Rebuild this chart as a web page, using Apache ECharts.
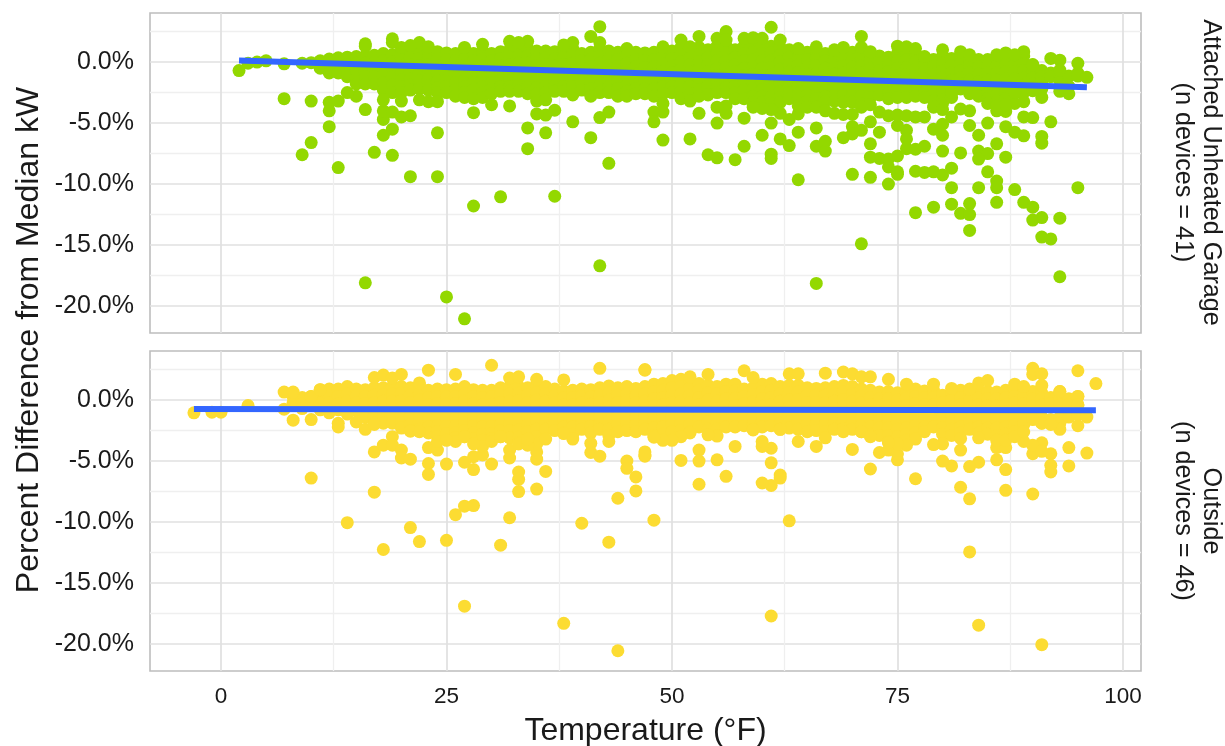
<!DOCTYPE html>
<html><head><meta charset="utf-8">
<style>html,body{margin:0;padding:0;background:#fff}#c{width:1225px;height:746px}</style>
<script src="https://cdn.jsdelivr.net/npm/echarts@6/dist/echarts.min.js"></script>
</head><body><div id="c"></div>
<script>
const xMajor = [0, 25, 50, 75, 100];
const xMinor = [12.5, 37.5, 62.5, 87.5];
const yMajor = [0, -5, -10, -15, -20];
const yMinor = [2.5, -2.5, -7.5, -12.5, -17.5];
const stripGarage = ['Attached Unheated Garage', '(n devices = 41)'];
const stripOutside = ['Outside', '(n devices = 46)'];
const garageTrend = [[2, 0.12], [96, -2.07]];
const outsideTrend = [[-3, -0.74], [97, -0.83]];

// dense band: [temperature, value, value, ...] read per degree
const garageBand = [
[11,.1,-.5],[12,.25,-.35,-.9],[13,.35,-.3,-.9],[14,.4,-.2,-.7,-1.2],[15,.45,-.1,-.7,-1.3,-1.8],
[16,.5,-.1,-.6,-1.2,-1.8],[17,.55,0,-.6,-1.2,-1.8],[18,.7,.1,-.5,-1.1,-1.7,-2.3],[19,.6,0,-.6,-1.2,-1.9,-2.5],
[20,.9,.3,-.3,-.9,-1.5,-2,-2.5],[21,.9,.35,-.2,-.8,-1.4,-1.9,-2.3],[22,.95,.3,-.3,-.9,-1.5,-2.2],[23,.9,.35,-.2,-.8,-1.4,-1.9,-2.3],
[24,.85,.25,-.35,-.95,-1.55,-2.1,-2.5],[25,.75,.2,-.4,-1,-1.5,-2,-2.5],[26,.7,.1,-.5,-1.1,-1.7,-2.3,-2.8],[27,.85,.25,-.3,-.9,-1.5,-2,-2.5,-2.9],
[28,.7,.1,-.5,-1.1,-1.7,-2.3,-3],[29,.9,.3,-.3,-.9,-1.5,-2,-2.5,-2.9],[30,.7,.1,-.5,-1.1,-1.7,-2.2,-2.6],[31,.85,.3,-.3,-.9,-1.5,-2,-2.4],
[32,1,.4,-.2,-.8,-1.4,-2,-2.4],[33,1.1,.5,-.1,-.7,-1.3,-1.9,-2.4],[34,1.1,.5,-.1,-.7,-1.3,-2,-2.6],[35,.9,.3,-.3,-.9,-1.5,-2.1,-2.6],
[36,.9,.35,-.25,-.85,-1.45,-2,-2.5],[37,.85,.25,-.35,-.95,-1.55,-2,-2.4],[38,1,.4,-.2,-.8,-1.4,-2,-2.4],[39,1.1,.55,-.1,-.7,-1.3,-2,-2.7],
[40,.7,.1,-.5,-1.1,-1.7,-2.3],[41,.8,.2,-.4,-1,-1.6,-2.2,-2.8],[42,1.1,.5,-.1,-.7,-1.3,-1.9,-2.5],[43,.9,.3,-.3,-.9,-1.5,-2,-2.5],
[44,.8,.2,-.4,-1,-1.6,-2.2,-2.8],[45,1.1,.5,-.1,-.7,-1.3,-1.9,-2.4,-2.8],[46,.8,.2,-.4,-1,-1.6,-2.2,-2.6],[47,.75,.15,-.45,-1.05,-1.65,-2.2,-2.6],
[48,.8,.2,-.4,-1,-1.6,-2.2,-2.8],[49,1,.45,-.15,-.75,-1.35,-2,-2.6],[50,.9,.3,-.3,-.9,-1.5,-2,-2.5],[51,1.2,.6,0,-.6,-1.2,-1.8,-2.4,-3],
[52,1,.4,-.2,-.8,-1.4,-2,-2.6,-3.2],[53,1.2,.6,0,-.6,-1.2,-1.8,-2.3,-2.8],[54,1,.4,-.2,-.8,-1.4,-2,-2.7],[55,1.3,.7,.1,-.5,-1.1,-1.7,-2.1,-2.5],
[56,1.3,.75,.15,-.45,-1.05,-1.65,-2.1,-2.5],[57,1,.4,-.2,-.8,-1.4,-2,-2.5,-3],[58,1.3,.7,.1,-.5,-1.1,-1.7,-2.3,-3],[59,1.4,.8,.2,-.4,-1,-1.6,-2.2,-2.8,-3.3],
[60,1.3,.7,.1,-.5,-1.1,-1.7,-2.3,-2.8,-3.3],[61,1.3,.75,.15,-.45,-1.05,-1.65,-2.25,-2.85,-3.4],[62,1.2,.6,0,-.6,-1.2,-1.8,-2.4,-2.9,-3.3],[63,1,.4,-.2,-.8,-1.4,-2,-2.5,-3],
[64,.9,.35,-.25,-.85,-1.45,-2.05,-2.6,-3],[65,.8,.2,-.4,-1,-1.6,-2.2,-2.7,-3.2],[66,.9,.3,-.3,-.9,-1.5,-2.1,-2.6,-3],[67,.7,.1,-.5,-1.1,-1.7,-2.3,-2.8,-3.2],
[68,.8,.2,-.4,-1,-1.6,-2.2,-2.7,-3.2],[69,.9,.3,-.3,-.9,-1.5,-2.1,-2.7,-3.3],[70,.8,.2,-.4,-1,-1.6,-2.2,-2.8,-3.3],[71,.9,.3,-.3,-.9,-1.5,-2.1,-2.8,-3.4],
[72,.7,.1,-.5,-1.1,-1.7,-2.3,-2.9,-3.5],[73,.5,-.1,-.7,-1.3,-1.9,-2.3,-2.7],[74,.4,-.2,-.8,-1.4,-2,-2.5,-3],[75,.7,.1,-.5,-1.1,-1.7,-2.3,-2.9],
[76,.7,.15,-.45,-1.05,-1.65,-2.25,-2.9],[77,.6,0,-.6,-1.2,-1.8,-2.3,-2.8],[78,.4,-.2,-.8,-1.4,-2,-2.5,-2.9],[79,.2,-.4,-1,-1.6,-2.2,-2.7,-3.2],
[80,.5,-.1,-.7,-1.3,-1.9,-2.5,-3.1,-3.4],[81,.3,-.3,-.9,-1.5,-2.1,-2.5,-2.9],[82,.5,-.1,-.7,-1.3,-1.8,-2.2],[83,.3,-.3,-.9,-1.5,-2.1,-2.6],
[84,.2,-.4,-1,-1.6,-2.2,-2.8],[85,.2,-.3,-.9,-1.5,-2.1,-2.6,-3],[86,.3,-.3,-.9,-1.5,-2.1,-2.7,-3.2],[87,.4,-.2,-.8,-1.4,-2,-2.5,-3],
[88,.4,-.2,-.8,-1.4,-2,-2.5],[89,.5,-.1,-.7,-1.3,-1.9,-2.5],[90,-.2,-.8,-1.3,-1.8,-2.3],[91,-.7,-1.2,-1.7,-2.2],[92,-.9,-1.2],[93,-1,-1.5],[94,-1.15,-2],[95,-.9,-1.15],
];
const outsideBand = [
[8,.3,-.2],[9,.2,-.3],[10,.3,-.2],[11,.85,.3,-.25,-.8],[12,.9,.35,-.2,-.7],[13,.9,.3,-.3,-.8],[14,1.1,.5,-.1,-.6],[15,.9,.35,-.25,-.85],
[16,.85,.3,-.3,-.9,-1.4],[17,1,.4,-.2,-.8,-1.4,-1.9],[18,1,.45,-.1,-.7,-1.3,-1.9],[19,1.1,.5,-.1,-.7,-1.3,-1.9],[20,1.1,.55,-.05,-.65,-1.25,-1.85,-2.3],
[21,1,.4,-.2,-.8,-1.4,-2,-2.5],[22,1.2,.6,0,-.6,-1.2,-1.8,-2.4],[23,.8,.2,-.4,-1,-1.6,-2.2,-2.7],[24,.9,.3,-.3,-.9,-1.5,-2.1,-2.6,-3],
[25,.85,.25,-.35,-.95,-1.55,-2.15,-2.75],[26,.9,.3,-.3,-.9,-1.5,-2.1,-2.7,-3.1],[27,1.1,.5,-.1,-.7,-1.3,-1.9,-2.5,-3],[28,.85,.3,-.3,-.9,-1.5,-2.1,-2.7,-3.2],
[29,.8,.2,-.4,-1,-1.6,-2.2,-2.8,-3.3],[30,.8,.25,-.35,-.95,-1.55,-2.15,-2.75,-3.2],[31,1,.4,-.2,-.8,-1.4,-2,-2.5,-3],[32,1.1,.5,-.1,-.7,-1.3,-1.9,-2.5,-3.1],
[33,1.1,.55,-.05,-.65,-1.25,-1.85,-2.45,-3.05,-3.5],[34,1,.4,-.2,-.8,-1.4,-2,-2.6,-3.2],[35,1.2,.6,0,-.6,-1.2,-1.8,-2.4,-3],[36,1.1,.5,-.1,-.7,-1.3,-1.9,-2.4],
[37,.9,.35,-.25,-.85,-1.45,-2,-2.5],[38,.75,.2,-.4,-1,-1.6,-2.2,-2.7],[39,.8,.2,-.4,-1,-1.6,-2.2,-2.8],[40,.9,.35,-.25,-.85,-1.45,-2,-2.4],
[41,.85,.25,-.35,-.95,-1.55,-2.15,-2.7],[42,1,.4,-.2,-.8,-1.4,-2,-2.4],[43,1.15,.6,0,-.6,-1.2,-1.8,-2.4,-2.9],[44,1,.4,-.2,-.8,-1.4,-2,-2.6],
[45,1.1,.55,-.05,-.65,-1.25,-1.85,-2.5],[46,.95,.35,-.25,-.85,-1.45,-2.05,-2.6],[47,1.1,.5,-.1,-.7,-1.3,-1.9,-2.4],[48,1.3,.7,.1,-.5,-1.1,-1.7,-2.3,-2.9],
[49,1.35,.8,.2,-.4,-1,-1.6,-2.2,-2.8],[50,1.6,1,.4,-.2,-.8,-1.4,-2,-2.6],[51,1.7,1.1,.5,-.1,-.7,-1.3,-1.9,-2.5],[52,1.6,1,.4,-.2,-.8,-1.4,-2,-2.6],
[53,1.35,.8,.2,-.4,-1,-1.6,-2.2],[54,1.2,.6,0,-.6,-1.2,-1.8,-2.4],[55,1.1,.5,-.1,-.7,-1.3,-1.9,-2.4],[56,1.3,.7,.1,-.5,-1.1,-1.7,-2.2],
[57,1.3,.75,.15,-.45,-1.05,-1.65,-2.2],[58,.9,.3,-.3,-.9,-1.5,-2.1],[59,1,.45,-.15,-.75,-1.35,-1.95,-2.4],[60,1.3,.7,.1,-.5,-1.1,-1.7,-2.2],
[61,1.35,.8,.2,-.4,-1,-1.6,-2.1],[62,1.1,.5,-.1,-.7,-1.3,-1.9,-2.4],[63,1.2,.6,0,-.6,-1.2,-1.8,-2.3],[64,1.2,.65,.05,-.55,-1.15,-1.75,-2.4],
[65,1,.4,-.2,-.8,-1.4,-2,-2.6],[66,.95,.4,-.2,-.8,-1.4,-2,-2.5],[67,1,.4,-.2,-.8,-1.4,-2,-2.6],[68,1.1,.5,-.1,-.7,-1.3,-1.9,-2.4],
[69,1.2,.65,.05,-.55,-1.15,-1.75,-2.35],[70,1.1,.5,-.1,-.7,-1.3,-1.9,-2.4],[71,.9,.35,-.25,-.85,-1.45,-2.05,-2.6],[72,.8,.2,-.4,-1,-1.6,-2.2,-2.8],
[73,.65,.1,-.5,-1.1,-1.7,-2.3,-2.9],[74,.7,.1,-.5,-1.1,-1.7,-2.3,-2.9,-3.4],[75,.6,0,-.6,-1.2,-1.8,-2.4,-3],[76,.7,.15,-.45,-1.05,-1.65,-2.25,-2.8,-3.3],
[77,.9,.3,-.3,-.9,-1.5,-2.1,-2.7,-3.2],[78,.75,.2,-.4,-1,-1.6,-2.2,-2.6],[79,.8,.2,-.4,-1,-1.6,-2.2],[80,.4,-.2,-.8,-1.4,-1.9,-2.3,-2.8],
[81,.6,0,-.6,-1.2,-1.8,-2.4,-2.9],[82,.8,.2,-.4,-1,-1.6,-2.2,-2.7],[83,.6,0,-.6,-1.2,-1.8,-2.4],[84,.8,.2,-.4,-1,-1.6,-2.2,-2.7],
[85,.7,.1,-.5,-1.1,-1.7,-2.3,-2.8],[86,.65,.1,-.5,-1.1,-1.7,-2.3,-2.9],[87,.8,.2,-.4,-1,-1.6,-2.2,-2.8],[88,.9,.35,-.25,-.85,-1.45,-2.05,-2.6],
[89,.9,.3,-.3,-.9,-1.5,-2],[90,.7,.1,-.5,-1.1],[91,.6,.1,-.4,-1.4,-1.9],[92,.2,-.3,-1.6],[93,.7,.1,-.4,-1.4,-1.9],[94,.1,-.4,-1.4],[95,.3,-.4,-1.2],
];
// isolated points: [temperature, value]
const garagePoints = [
[2,-.7],[3,-.1],[4,0],[5,.1],[7,-.15],[7,-3],[9,-.1],[10,-.05],[10,-3.2],[11,-.3],[12,-3.3],[12,-4],[12,-5.3],[13,-3.2],[10,-6.6],[9,-7.6],[13,-8.65],
[16,-3.9],[16,1.5],[16,1.3],[19,1.9],[19,1.6],[17,-7.4],[19,-7.65],[18,-6],[19,-5.5],[18,-4.7],[18,-4],[19,-4.1],[20,-4.5],[21,-4.4],[24,-5.8],[21,-9.4],[24,-9.4],
[22,-3.1],[23,-3.25],[24,-3.25],[20,-3.2],[15,-2.8],[14,-2.5],[18,-3.1],[28,-4.15],[30,-3.5],[32,-3.6],[34,-5.4],[36,-5.8],[34,-7.1],[35,-4.25],[36,-4.35],[37,-3.95],
[39,-4.9],[41,-6.2],[42,-4.55],[43,-4.1],[43,-8.3],[42,2.9],[41,2.1],[42,1.6],[39,1.6],[34,1.7],[32,1.7],[29,1.45],[27,1.2],[22,1.6],[23,1.25],[20,1.2],[21,1.35],[33,1.6],[38,1.4],
[28,-11.8],[31,-11.05],[37,-11],[16,-18.1],[25,-19.25],[27,-21.05],[42,-16.7],[35,-3.2],[36,-3.1],
[61,2.85],[56,2.5],[53,2.1],[55,1.95],[56,1.8],[51,1.8],[58,1.95],[59,2],[60,1.95],[62,1.8],[49,1.25],[52,1.25],[64,1.1],[66,1.25],[68,1],[69,1.2],[71,2.1],[71,1.2],[72,.85],[75,1.3],[76,1.25],[77,1.1],[78,.45],[80,1],[82,.85],[83,.6],[86,.6],[87,.75],[89,.85],[88,.6],[90,-.25],[92,.3],[93,.15],[95,-.1],[93,-.65],[96,-1.25],
[48,-4.1],[48,-4.9],[49,-3.4],[49,-4.1],[49,-6.4],[52,-6.3],[53,-4.2],[55,-5],[56,-4.2],[56,-3.6],[55,-3.7],[58,-4.6],[54,-7.6],[55,-7.85],[57,-8],[58,-6.9],[60,-6],[61,-5],[61,-7.55],[61,-7.9],[62,-6.3],[63,-6.85],[63,-4.7],[64,-4.25],[64,-5.75],[62,-4.2],[61,-3.9],[60,-3.8],[59,-3.7],
[66,-5.4],[66,-6.9],[67,-6.5],[67,-7.3],[69,-6.2],[70,-5.3],[70,-5.9],[71,-5.6],[72,-4.9],[73,-5.75],[72,-6.7],[72,-7.8],[73,-7.9],[74,-7.95],[74,-8.6],[75,-7.7],[75,-9],[76,-7.1],[77,-7.15],[78,-6.9],[76,-5.6],[76,-6.3],[75,-5.2],[73,-4.1],[74,-4.4],[75,-4.35],[76,-4.4],[77,-4.5],[78,-4.5],[79,-5.5],[80,-6],[80,-5.1],[81,-4.5],[82,-3.85],[83,-4],[83,-5.2],[84,-6],[85,-5],[80,-7.3],[82,-7.45],[84,-7.3],[85,-7.5],[84,-7.95],[86,-6.7],[87,-7.8],[87,-5.3],[88,-5.75],[89,-6.05],[91,-6.1],[91,-6.65],[92,-4.9],[90,-4.55],[89,-4.5],[89,-3.25],[88,-3.4],[87,-4.05],[86,-4],[91,-2.9],[94,-2.6],[93,-2.4],[90,-2.35],[88,-2.5],[81,-2.5],
[64,-3.6],[65,-3.7],[66,-3.7],[67,-4],[68,-4.2],[69,-4.3],[70,-4.3],[71,-3.7],[79,-3.7],[80,-3.9],[85,-3.4],[86,-3.6],[87,-3.5],
[64,-9.65],[70,-9.2],[72,-9.45],[74,-10],[75,-9.2],[77,-8.95],[78,-9.05],[79,-9],[80,-9.25],[81,-8.7],[81,-10.3],[84,-10.3],[85,-9],[86,-9.75],[86,-10.3],[88,-10.45],[89,-11.5],[90,-11.9],[86,-11.5],[83,-11.6],[81,-11.65],[79,-11.9],[77,-12.35],[82,-12.4],[83,-12.5],[83,-13.8],[90,-12.95],[91,-12.75],[93,-12.8],[91,-14.35],[92,-14.5],[95,-10.3],[71,-14.9],[66,-18.15],[93,-17.6],
];
const outsidePoints = [
[-3,-1.05],[-1,-1],[0,-1],[3,-.45],[7,.65],[8,.65],[7,-.75],[8,-1.65],[10,-1.6],[9,-.7],[10,.3],[11,.85],[12,-1.05],[13,-1.9],[13,-2.2],[14,-1.15],[15,-1.8],[16,-2.4],[17,-2],[17,1.85],[18,2.05],[19,1.8],[20,2.1],[22,1.4],[23,2.45],[26,2.1],[30,2.85],[32,1.8],[33,1.9],[35,1.7],[38,1.65],[42,2.6],[47,2.45],
[10,-6.4],[17,-7.55],[17,-4.25],[18,-3.7],[19,-3],[19,-3.7],[20,-4.1],[20,-4.75],[21,-4.85],[23,-3.9],[24,-4.1],[23,-5.2],[23,-6.1],[25,-5.25],[27,-5.1],[28,-5.7],[28,-4.65],[29,-4.5],[29,-3.8],[30,-5.25],[32,-4.1],[32,-4.75],[33,-5.9],[33,-6.5],[33,-7.5],[35,-7.3],[36,-5.85],[35,-4.85],[35,-4.25],[35,-3.6],[38,-2.75],[39,-3.2],[41,-3.55],[41,-4.3],[42,-4.6],[43,-3.4],[45,-5],[45,-5.6],[46,-6.3],[46,-7.45],[44,-8.05],[47,-4.25],[47,-4.6],[26,-3.4],[21,-2.55],[22,-2.6],[30,-3.4],[31,-3],[27,-3],[24,-3.4],[25,-3.3],[33,-3.6],[34,-3.7],[34,-3.2],[28,-3.6],[36,-3.2],
[14,-10.05],[18,-12.25],[21,-10.45],[22,-11.6],[25,-11.5],[26,-9.4],[27,-8.7],[28,-8.65],[32,-9.65],[31,-11.9],[40,-10.1],[43,-11.65],[27,-16.9],[38,-18.3],[44,-20.55],[48,-9.85],
[63,-9.9],[83,-12.45],[61,-17.7],[84,-18.45],[91,-20.05],
[47,2.5],[54,2.1],[58,2.4],[59,1.85],[63,2.15],[64,2.15],[67,2.2],[69,2.3],[70,2.15],[71,1.9],[72,1.9],[74,1.7],[76,1.3],[79,1.3],[81,.95],[83,.9],[84,1.4],[85,1.6],[88,1.3],[89,1.1],[90,2.6],[90,2.1],[91,2.15],[91,1.2],[93,.7],[95,2.4],[95,.3],[95,-.4],[97,1.35],[52,1.9],
[96,-1.4],[95,-2.1],[96,-4.35],[94,-3.9],[94,-5.4],[92,-4.4],[92,-5.35],[92,-5.9],[90,-4.4],[91,-3.5],[90,-7.7],[87,-7.4],[87,-5.7],[86,-4.9],[84,-5.1],[83,-5.45],[82,-7.15],[83,-8.1],[81,-5.4],[80,-5],[82,-4.1],[80,-3.6],[79,-3.65],[77,-6.45],[75,-4.9],[72,-5.65],[73,-4.3],[70,-4.05],[66,-3.8],[64,-3.4],[62,-6.15],[62,-6.4],[61,-7],[60,-6.8],[61,-5.15],[61,-3.95],[60,-3.8],[60,-3.4],[57,-3.8],[56,-6.25],[55,-4.9],[53,-4.1],[53,-5],[53,-6.9],[51,-4.95],[47,-4.5],
[55,-2.95],[54,-2.85],[52,-2.7],[51,-3],[50,-3.3],[49,-3.3],[48,-3.05],[59,-2.45],[62,-2.4],[67,-3.1],[69,-2.6],[71,-2.6],[72,-3],[74,-4.1],[75,-4.4],[76,-3.7],[82,-3.15],[84,-3.1],[86,-3.9],[87,-3.9],[89,-3.4],[89,-1.9],[91,-1.9],[93,-2.4],[92,-2],[75,-3.6],[74,-3.5],[86,-3.3],[87,-3.3],[88,-3],[89,-2.6],[90,-3.7],[91,-4.2],[90,-1.6],
];

const ink = '#1a1a1a';
const fontFamily = '"Liberation Sans", Arial, sans-serif';
const xRange = {min: -7.87, max: 102};
const yRange = {min: -22.21, max: 4.02};
const grids = [
  {left:150, top:13, width:991, height:320, show:true, borderColor:'#bdbdbd', borderWidth:1.6, backgroundColor:'transparent', outerBoundsMode:'none', containLabel:false},
  {left:150, top:351, width:991, height:320, show:true, borderColor:'#bdbdbd', borderWidth:1.6, backgroundColor:'transparent', outerBoundsMode:'none', containLabel:false}
];
function xAxis(gridIndex, major, showLabel) {
  return Object.assign({
    type:'value', gridIndex, position: major ? 'bottom' : 'top', z:1,
    axisLine:{show:false},
    axisTick:{show:false, customValues: major ? xMajor : xMinor},
    axisLabel:{show:showLabel, customValues: major ? xMajor : xMinor, color:ink, fontSize:22.5, fontFamily, margin:14, hideOverlap:false},
    splitLine:{show:true, lineStyle:{color: major ? '#e0e0e0' : '#efefef', width: major ? 1.7 : 1.3}},
    name: showLabel ? 'Temperature (°F)' : '',
    nameLocation:'middle', nameGap:44,
    nameTextStyle:{color:ink, fontSize:32, fontFamily}
  }, xRange);
}
function yAxis(gridIndex, major) {
  return Object.assign({
    type:'value', gridIndex, position: major ? 'left' : 'right', z:1,
    axisLine:{show:false},
    axisTick:{show:false, customValues: major ? yMajor : yMinor},
    axisLabel:{show:major, customValues: major ? yMajor : yMinor, color:ink, fontSize:25, fontFamily, margin:16, padding:[3,0,0,0],
      formatter: v => v.toFixed(1) + '%'},
    splitLine:{show:true, lineStyle:{color: major ? '#e0e0e0' : '#efefef', width: major ? 1.7 : 1.3}}
  }, yRange);
}
function expand(rows) {
  const out = [];
  rows.forEach(r => { for (let i = 1; i < r.length; i++) out.push([r[0], r[i]]); });
  return out;
}
function points(name, xIdx, yIdx, data, color) {
  return {name, type:'scatter', xAxisIndex:xIdx, yAxisIndex:yIdx, data, symbol:'circle', symbolSize:13, silent:true, animation:false,
    itemStyle:{color, opacity:1}, z:3};
}
function trend(name, xIdx, yIdx, data) {
  return {name, type:'line', xAxisIndex:xIdx, yAxisIndex:yIdx, data, symbol:'none', silent:true, animation:false,
    lineStyle:{color:'#3366FF', width:6, cap:'butt', opacity:1}, z:5};
}
function stripText(lines, cy) {
  return [
    {type:'text', x:1211, y:cy, rotation:-Math.PI/2, style:{text:lines[0], fill:ink, font:'25.2px '+fontFamily, textAlign:'center', textVerticalAlign:'middle'}},
    {type:'text', x:1183, y:cy, rotation:-Math.PI/2, style:{text:lines[1], fill:ink, font:'25.2px '+fontFamily, textAlign:'center', textVerticalAlign:'middle'}}
  ];
}
const chart = echarts.init(document.getElementById('c'), null, {renderer:'canvas'});
chart.setOption({
  animation:false,
  backgroundColor:'#fff',
  grid:grids,
  xAxis:[xAxis(0,true,false), xAxis(0,false,false), xAxis(1,true,true), xAxis(1,false,false)],
  yAxis:[yAxis(0,true), yAxis(0,false), yAxis(1,true), yAxis(1,false)],
  series:[
    points('Attached Unheated Garage band',0,0,expand(garageBand),'#93D800'),
    points('Attached Unheated Garage',0,0,garagePoints,'#93D800'),
    trend('Garage trend',0,0,garageTrend),
    points('Outside band',2,2,expand(outsideBand),'#FCDC32'),
    points('Outside',2,2,outsidePoints,'#FCDC32'),
    trend('Outside trend',2,2,outsideTrend)
  ],
  graphic:[
    {type:'text', x:29, y:340, rotation:Math.PI/2, style:{text:'Percent Difference from Median kW', fill:ink, font:'32px '+fontFamily, textAlign:'center', textVerticalAlign:'middle'}},
    ...stripText(stripGarage,172.5),
    ...stripText(stripOutside,511)
  ]
});
</script></body></html>
